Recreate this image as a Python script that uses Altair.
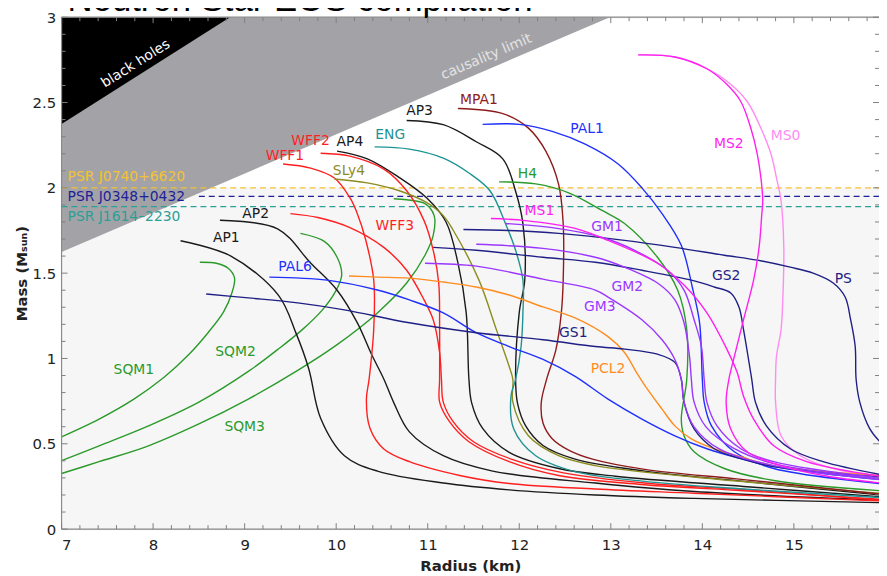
import altair as alt
import pandas as pd

W, H = 824, 516
XMIN, XMAX = 7.0, 15.93
YMIN, YMAX = 0.0, 3.0

X_MAJOR = [7, 8, 9, 10, 11, 12, 13, 14, 15]
Y_MAJOR = [0, 0.5, 1, 1.5, 2, 2.5, 3]
TITLE = "Neutron Star EOS compilation"

# ---- mass-radius curves: (radius km, mass Msun) ----
AP1 = [(8.30, 1.69), (8.85, 1.60), (9.37, 1.37), (9.56, 1.15), (9.70, 0.94), (9.83, 0.65), (10.09, 0.43),
       (10.45, 0.34), (11.17, 0.27), (11.89, 0.23), (12.83, 0.20), (13.91, 0.18), (15.94, 0.155)]
AP2 = [(8.73, 1.81), (9.36, 1.76), (9.72, 1.56), (10.01, 1.40), (10.23, 1.21), (10.39, 1.02), (10.52, 0.88),
       (10.63, 0.74), (10.80, 0.57), (11.17, 0.43), (11.71, 0.34), (12.83, 0.27), (13.91, 0.22), (15.94, 0.17)]
AP4 = [(10.01, 2.215), (10.34, 2.17), (10.69, 2.06), (10.99, 1.94), (11.20, 1.80), (11.33, 1.56), (11.42, 1.27),
       (11.45, 0.88), (11.48, 0.74), (11.60, 0.59), (11.89, 0.45), (12.43, 0.355), (13.05, 0.31), (14.45, 0.25),
       (15.94, 0.19)]
AP3 = [(10.77, 2.395), (11.17, 2.37), (11.53, 2.27), (11.82, 2.17), (11.96, 1.98), (12.04, 1.79), (12.06, 1.46),
       (12.00, 1.27), (11.96, 0.88), (11.98, 0.74), (12.07, 0.605), (12.26, 0.49), (12.61, 0.41), (13.37, 0.34),
       (14.45, 0.28), (15.94, 0.20)]
MPA1 = [(11.33, 2.465), (11.82, 2.435), (12.10, 2.35), (12.29, 2.215), (12.43, 2.02), (12.48, 1.79), (12.48, 1.46),
        (12.46, 1.27), (12.40, 1.05), (12.30, 0.88), (12.24, 0.74), (12.26, 0.62), (12.36, 0.53), (12.55, 0.46),
        (12.80, 0.41), (13.37, 0.35), (14.45, 0.29), (15.94, 0.205)]
ENG = [(10.42, 2.24), (10.80, 2.227), (11.17, 2.174), (11.45, 2.087), (11.68, 1.983), (11.85, 1.79), (11.96, 1.634),
       (12.04, 1.46), (12.04, 1.267), (12.02, 1.07), (11.96, 0.878), (11.91, 0.78), (11.94, 0.587), (12.18, 0.43),
       (12.61, 0.337), (13.37, 0.28), (14.45, 0.235), (15.94, 0.185)]
SLY4 = [(9.98, 2.052), (10.34, 2.029), (10.69, 1.983), (10.99, 1.913), (11.17, 1.837), (11.28, 1.75), (11.56, 1.459),
        (11.75, 1.169), (11.89, 0.953), (11.93, 0.878), (11.93, 0.744), (12.10, 0.547), (12.43, 0.43), (12.83, 0.372),
        (13.91, 0.305), (15.94, 0.21)]
WFF1 = [(9.42, 2.14), (9.72, 2.116), (9.98, 2.058), (10.15, 1.942), (10.23, 1.85), (10.32, 1.70), (10.41, 1.46),
        (10.41, 1.17), (10.36, 0.88), (10.33, 0.76), (10.37, 0.59), (10.52, 0.47), (10.80, 0.395), (11.35, 0.314),
        (11.89, 0.267), (12.83, 0.235), (13.91, 0.21), (15.94, 0.165)]
WFF2 = [(9.83, 2.203), (10.15, 2.186), (10.52, 2.11), (10.77, 1.983), (10.96, 1.808), (11.06, 1.634), (11.12, 1.442),
        (11.13, 1.169), (11.13, 0.878), (11.13, 0.744), (11.24, 0.628), (11.45, 0.512), (11.89, 0.395), (12.43, 0.314),
        (13.37, 0.26), (14.45, 0.225), (15.94, 0.175)]
WFF3 = [(9.50, 1.849), (9.80, 1.826), (10.15, 1.767), (10.52, 1.651), (10.77, 1.517), (10.96, 1.343), (11.06, 1.227),
        (11.13, 1.035), (11.15, 0.878), (11.17, 0.744), (11.28, 0.628), (11.50, 0.512), (11.93, 0.407), (12.47, 0.331),
        (13.37, 0.27), (14.45, 0.232), (15.94, 0.17)]
H4 = [(11.78, 2.035), (12.18, 2.023), (12.54, 1.971), (12.91, 1.866), (13.15, 1.791), (13.51, 1.593), (13.73, 1.401),
      (13.83, 1.169), (13.83, 0.878), (13.77, 0.645), (13.80, 0.547), (13.91, 0.453), (14.24, 0.355), (14.78, 0.285),
      (15.94, 0.225)]
PAL1 = [(11.60, 2.372), (12.00, 2.372), (12.36, 2.331), (12.72, 2.256), (13.08, 2.14), (13.34, 2.0), (13.56, 1.849),
        (13.77, 1.663), (13.89, 1.419), (13.97, 1.209), (14.00, 0.878), (14.02, 0.744), (14.10, 0.605), (14.35, 0.453),
        (14.78, 0.355), (15.94, 0.267)]
PAL6 = [(9.27, 1.477), (9.90, 1.459), (10.45, 1.401), (10.80, 1.343), (11.17, 1.267), (11.53, 1.151), (11.89, 1.07),
        (12.26, 0.994), (12.61, 0.895), (12.97, 0.762), (13.34, 0.645), (13.70, 0.547), (14.05, 0.471), (14.42, 0.413),
        (14.78, 0.366), (15.32, 0.326), (15.94, 0.291)]
PCL2 = [(10.14, 1.483), (10.45, 1.477), (10.80, 1.471), (11.17, 1.448), (11.53, 1.419), (11.89, 1.372), (12.26, 1.302),
        (12.61, 1.238), (12.97, 1.128), (13.15, 1.035), (13.28, 0.919), (13.40, 0.82), (13.56, 0.703), (13.70, 0.605),
        (13.88, 0.529), (14.13, 0.471), (14.42, 0.424), (14.78, 0.372), (15.94, 0.314)]
GS1 = [(8.58, 1.378), (9.04, 1.355), (9.58, 1.326), (10.09, 1.285), (10.80, 1.209), (11.53, 1.151), (12.26, 1.11),
       (12.83, 1.07), (13.15, 1.055), (13.51, 1.025), (13.70, 0.977), (13.77, 0.878), (13.80, 0.744), (13.91, 0.587),
       (14.13, 0.471), (14.42, 0.413), (14.78, 0.366), (15.94, 0.305)]
GS2 = [(11.06, 1.651), (11.53, 1.634), (12.26, 1.593), (12.83, 1.564), (13.34, 1.517), (13.88, 1.459), (14.13, 1.419),
       (14.31, 1.384), (14.40, 1.302), (14.45, 1.169), (14.51, 0.977), (14.54, 0.878), (14.58, 0.744), (14.70, 0.605),
       (14.96, 0.471), (15.32, 0.395), (15.94, 0.32)]
PS = [(11.39, 1.756), (11.89, 1.75), (12.43, 1.733), (13.15, 1.692), (13.70, 1.651), (14.24, 1.605), (14.60, 1.576),
      (14.96, 1.535), (15.21, 1.50), (15.43, 1.442), (15.56, 1.36), (15.62, 1.227), (15.67, 1.07), (15.68, 0.878),
      (15.72, 0.744), (15.83, 0.587), (15.94, 0.512), (16.10, 0.44)]
GM1 = [(11.85, 1.791), (12.36, 1.767), (12.91, 1.709), (13.26, 1.634), (13.62, 1.517), (13.80, 1.401), (13.91, 1.227),
       (13.99, 1.07), (14.02, 0.878), (14.05, 0.744), (14.16, 0.605), (14.42, 0.471), (14.78, 0.395), (15.94, 0.30)]
GM2 = [(11.53, 1.669), (12.26, 1.645), (12.83, 1.593), (13.15, 1.535), (13.51, 1.442), (13.70, 1.343), (13.80, 1.209),
       (13.86, 1.012), (13.88, 0.878), (13.91, 0.744), (14.04, 0.599), (14.35, 0.471), (14.78, 0.384), (15.94, 0.295)]
GM3 = [(10.97, 1.558), (11.53, 1.541), (12.26, 1.465), (12.83, 1.401), (12.97, 1.36), (13.34, 1.227), (13.56, 1.11),
       (13.70, 0.994), (13.77, 0.878), (13.80, 0.744), (13.91, 0.599), (14.18, 0.471), (14.78, 0.372), (15.94, 0.29)]
MS1 = [(11.69, 1.82), (12.07, 1.808), (12.61, 1.762), (12.97, 1.692), (13.51, 1.558), (13.80, 1.43), (14.05, 1.267),
       (14.27, 1.052), (14.38, 0.919), (14.45, 0.779), (14.56, 0.645), (14.78, 0.488), (15.14, 0.395), (15.94, 0.31)]
MS0 = [(13.30, 2.779), (13.70, 2.767), (14.05, 2.698), (14.29, 2.616), (14.49, 2.506), (14.64, 2.349), (14.75, 2.198),
       (14.81, 2.058), (14.86, 1.924), (14.89, 1.651), (14.88, 1.36), (14.86, 1.169), (14.81, 1.012), (14.80, 0.878),
       (14.80, 0.744), (14.86, 0.547), (15.07, 0.43), (15.43, 0.355), (15.94, 0.308)]
MS2 = [(13.30, 2.779), (13.70, 2.767), (14.05, 2.698), (14.27, 2.605), (14.42, 2.506), (14.53, 2.349), (14.60, 2.198),
       (14.64, 2.058), (14.66, 1.924), (14.65, 1.849), (14.62, 1.651), (14.56, 1.459), (14.45, 1.227), (14.35, 1.012),
       (14.29, 0.878), (14.26, 0.744), (14.31, 0.587), (14.49, 0.453), (14.86, 0.372), (15.32, 0.314), (15.94, 0.27)]
SQM1 = [(7.00, 0.541), (7.41, 0.645), (7.79, 0.762), (8.12, 0.890), (8.39, 1.023), (8.60, 1.151), (8.77, 1.273),
        (8.86, 1.384), (8.89, 1.471), (8.82, 1.529), (8.69, 1.558), (8.51, 1.564)]
SQM2 = [(7.00, 0.401), (7.41, 0.488), (7.95, 0.605), (8.50, 0.744), (9.04, 0.924), (9.36, 1.052), (9.63, 1.169),
        (9.85, 1.285), (9.99, 1.390), (10.06, 1.488), (10.01, 1.593), (9.87, 1.686), (9.61, 1.733)]
SQM3 = [(7.00, 0.326), (7.41, 0.395), (7.95, 0.488), (8.50, 0.616), (9.04, 0.762), (9.58, 0.930), (10.01, 1.081),
        (10.45, 1.267), (10.77, 1.442), (10.97, 1.605), (11.06, 1.721), (11.07, 1.837), (10.97, 1.907), (10.77, 1.93),
        (10.63, 1.936)]

BLACK, RED, DRED, TEAL, OLIVE = "#1a1a1a", "#ff1f1f", "#8e1b1b", "#1f9393", "#8c8c1f"
GREEN, BLUE, NAVY, PURPLE = "#2a9a2a", "#1f2fff", "#1f1f85", "#9b36ff"
MAGENTA, PINK, ORANGE = "#ff1ff0", "#ff8cf2", "#ff8c1f"

CURVES = [
    ("MS0", MS0, PINK), ("SQM1", SQM1, GREEN), ("SQM2", SQM2, GREEN), ("SQM3", SQM3, GREEN),
    ("AP1", AP1, BLACK), ("AP2", AP2, BLACK), ("AP4", AP4, BLACK), ("AP3", AP3, BLACK),
    ("WFF1", WFF1, RED), ("WFF2", WFF2, RED), ("WFF3", WFF3, RED), ("SLy4", SLY4, OLIVE),
    ("ENG", ENG, TEAL), ("MPA1", MPA1, DRED), ("H4", H4, GREEN), ("PAL1", PAL1, BLUE), ("PAL6", PAL6, BLUE),
    ("PCL2", PCL2, ORANGE), ("GS1", GS1, NAVY), ("GS2", GS2, NAVY), ("PS", PS, NAVY),
    ("GM1", GM1, PURPLE), ("GM2", GM2, PURPLE), ("GM3", GM3, PURPLE), ("MS1", MS1, MAGENTA), ("MS2", MS2, MAGENTA),
]

# curve labels: (text, radius, mass)
LABELS = [
    ("AP1", 8.80, 1.703), ("AP2", 9.12, 1.849), ("AP3", 10.91, 2.448), ("AP4", 10.15, 2.267),
    ("ENG", 10.59, 2.308), ("MPA1", 11.56, 2.517), ("PAL1", 12.74, 2.343), ("MS2", 14.29, 2.256),
    ("MS0", 14.91, 2.302), ("WFF2", 9.72, 2.273), ("WFF1", 9.44, 2.186), ("SLy4", 10.14, 2.099),
    ("H4", 12.09, 2.081), ("MS1", 12.22, 1.866), ("GM1", 12.96, 1.773), ("WFF3", 10.64, 1.779),
    ("PAL6", 9.55, 1.535), ("GS2", 14.26, 1.483), ("PS", 15.54, 1.465), ("GM2", 13.18, 1.419),
    ("GM3", 12.88, 1.302), ("GS1", 12.59, 1.151), ("PCL2", 12.97, 0.936), ("SQM1", 7.79, 0.930),
    ("SQM2", 8.90, 1.035), ("SQM3", 9.00, 0.599),
]

# pulsar mass limits
PSR_NAMES = ["PSR J0740+6620", "PSR J0348+0432", "PSR J1614\u20132230"]
PSR_MASS = [2.00, 1.95, 1.89]
PSR_LINE_START = [7.0, 8.50, 7.0]
PSR_LABEL_MASS = [2.064, 1.948, 1.826]
PSR_COLORS = ["#f2c232", "#1f1f99", "#2aa096"]
PSR_TEXT_X = 7.065

# shaded regions: lower boundary lines (radius, mass)
BH_EDGE = [(7.0, 2.374), (8.84, 3.0)]
CAUSAL_EDGE = [(7.0, 1.624), (12.99, 3.0)]
OBS_BAND_TOP = 2.0

FONT = "DejaVu Sans"
FRAME = "#8a8a8a"

xscale = alt.Scale(domain=[XMIN, XMAX], nice=False, zero=False)
yscale = alt.Scale(domain=[YMIN, YMAX], nice=False, zero=False)
xaxis = alt.Axis(values=X_MAJOR, ticks=False, domain=False, grid=False, labelPadding=9, labelFontSize=15,
                 labelFont=FONT, labelColor="#222222", format="~g", title="Radius (km)", titleFontSize=15,
                 titleFont=FONT, titleFontWeight="bold", titleColor="#222222", titleBaseline="alphabetic", titleY=42)
yaxis = alt.Axis(values=Y_MAJOR, ticks=False, domain=False, grid=False, labelPadding=6, labelFontSize=15,
                 labelFont=FONT, labelColor="#222222", format="~g", title="Mass (M\u209b\u1d64\u2099)",
                 titleFontSize=15, titleFont=FONT, titleFontWeight="bold", titleColor="#222222",
                 titleAngle=270, titleBaseline="alphabetic", titleX=-35, titleY=H / 2)


def X(f):
    return alt.X(f, type="quantitative", scale=xscale, axis=xaxis)


def Y(f):
    return alt.Y(f, type="quantitative", scale=yscale, axis=yaxis)


band = alt.Chart(pd.DataFrame({"x": [XMIN], "x2": [XMAX], "y": [0.0], "y2": [OBS_BAND_TOP]})).mark_rect(
    color="#f6f6f6").encode(x=X("x"), x2="x2", y=Y("y"), y2="y2")

causal = alt.Chart(pd.DataFrame({"x": [p[0] for p in CAUSAL_EDGE], "lo": [p[1] for p in CAUSAL_EDGE],
                                 "hi": [YMAX, YMAX]})).mark_area(color="#a3a3a7", opacity=1, clip=True).encode(
    x=X("x"), y=Y("hi"), y2="lo")
bh = alt.Chart(pd.DataFrame({"x": [p[0] for p in BH_EDGE], "lo": [p[1] for p in BH_EDGE],
                             "hi": [YMAX, YMAX]})).mark_area(color="#000000", opacity=1, clip=True).encode(
    x=X("x"), y=Y("hi"), y2="lo")

region_text = alt.Chart(pd.DataFrame({"t": ["black holes"], "x": [7.81], "y": [2.727]})).mark_text(
    font=FONT, fontSize=14, color="white", angle=328, align="center", baseline="middle").encode(
    x=X("x"), y=Y("y"), text="t")
causal_text = alt.Chart(pd.DataFrame({"t": ["causality limit"], "x": [11.64], "y": [2.767]})).mark_text(
    font=FONT, fontSize=14, color="#e4e4e4", angle=337, align="center", baseline="middle").encode(
    x=X("x"), y=Y("y"), text="t")

psr_df = pd.DataFrame({"name": PSR_NAMES, "m": PSR_MASS, "x": PSR_LINE_START, "x2": [XMAX] * 3,
                       "lm": PSR_LABEL_MASS, "lx": [PSR_TEXT_X] * 3, "col": PSR_COLORS})
psr_lines = alt.Chart(psr_df).mark_rule(strokeWidth=1.3, strokeDash=[6, 4]).encode(
    x=X("x"), x2="x2", y=Y("m"), color=alt.Color("col:N", scale=None))
psr_text = alt.Chart(psr_df).mark_text(font=FONT, fontSize=14, align="left", baseline="middle").encode(
    x=X("lx"), y=Y("lm"), text="name", color=alt.Color("col:N", scale=None))

rows = []
for name, pts, col in CURVES:
    for i, (r, m) in enumerate(pts):
        rows.append({"name": name, "i": i, "r": r, "m": m})
curve_df = pd.DataFrame(rows)
names = [c[0] for c in CURVES]
cols = [c[2] for c in CURVES]
lines = alt.Chart(curve_df).mark_line(strokeWidth=1.4, interpolate="catmull-rom", clip=True).encode(
    x=X("r"), y=Y("m"), color=alt.Color("name:N", scale=alt.Scale(domain=names, range=cols), legend=None),
    order="i:Q")

color_of = {c[0]: c[2] for c in CURVES}
lab_df = pd.DataFrame({"t": [l[0] for l in LABELS], "x": [l[1] for l in LABELS], "y": [l[2] for l in LABELS],
                       "col": [color_of[l[0]] for l in LABELS]})
labels = alt.Chart(lab_df).mark_text(font=FONT, fontSize=14, align="center", baseline="middle").encode(
    x=X("x"), y=Y("y"), text="t", color=alt.Color("col:N", scale=None))

# frame on left, bottom and top (right edge lies beyond the picture)
frame_h = alt.Chart(pd.DataFrame({"v": [YMIN, YMAX]})).mark_rule(color=FRAME, strokeWidth=1.2).encode(
    y=Y("v"), x=alt.value(0), x2=alt.value(W))
frame_v = alt.Chart(pd.DataFrame({"v": [XMIN]})).mark_rule(color=FRAME, strokeWidth=1.2).encode(
    x=X("v"), y=alt.value(0), y2=alt.value(H))

# title, sitting just above the plot (its top is cut off by the picture edge, as in the source)
title_mark = alt.Chart(pd.DataFrame({"t": [TITLE]})).mark_text(
    font="Liberation Sans", fontSize=35, color="black", align="left", baseline="alphabetic").encode(
    text="t", x=alt.value(6), y=alt.value(-6))

# inward tick marks on all four sides
x_minor = [round(7 + 0.2 * k, 1) for k in range(1, 45) if (k % 5) != 0 and 7 + 0.2 * k < XMAX]
y_minor = [round(0.1 * k, 1) for k in range(1, 30) if (k % 5) != 0]
TICK = "#808080"
xmaj = pd.DataFrame({"v": X_MAJOR})
xmin_ = pd.DataFrame({"v": x_minor})
ymaj = pd.DataFrame({"v": Y_MAJOR})
ymin_ = pd.DataFrame({"v": y_minor})


def xt(df, y0, y1):
    return alt.Chart(df).mark_rule(color=TICK, strokeWidth=1).encode(x=X("v"), y=alt.value(y0), y2=alt.value(y1))


def yt(df, x0, x1):
    return alt.Chart(df).mark_rule(color=TICK, strokeWidth=1).encode(y=Y("v"), x=alt.value(x0), x2=alt.value(x1))


ticks = [xt(xmaj, H, H - 6), xt(xmin_, H, H - 4), xt(xmaj, 0, 6), xt(xmin_, 0, 4),
         yt(ymaj, 0, 6), yt(ymin_, 0, 4), yt(ymaj, W, W - 6), yt(ymin_, W, W - 4)]

chart = alt.layer(band, causal, bh, region_text, causal_text, psr_lines, psr_text, lines, labels,
                  frame_h, frame_v, title_mark, *ticks).properties(
    width=W, height=H,
    padding={"left": 54, "top": 7, "right": 0, "bottom": 45},
    autosize=alt.AutoSizeParams(type="none"),
).configure_view(strokeWidth=0).configure(background="white")

chart.save("out.html", embed_options={"renderer": "svg", "actions": False})
